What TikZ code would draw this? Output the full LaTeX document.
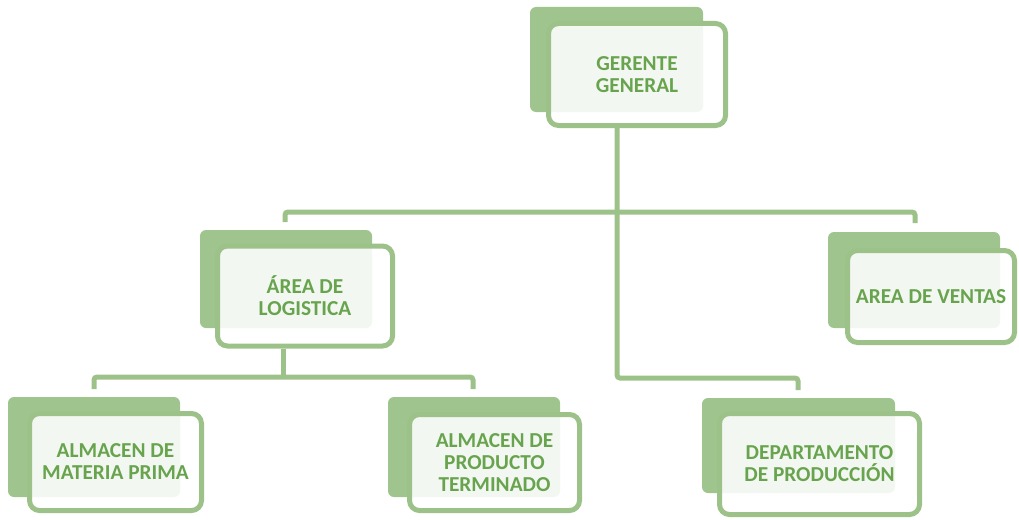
\documentclass[tikz,border=0pt]{standalone}
\usepackage{fontspec}
\setmainfont{Carlito}
\definecolor{linegreen}{RGB}{157,194,137}
\definecolor{backgreen}{RGB}{160,196,141}
\definecolor{textgreen}{RGB}{104,164,78}
\tikzset{
  backcard/.style={fill=backgreen, rounded corners=6pt},
  frontcard/.style={draw=linegreen, line width=5pt, rounded corners=10pt,
    fill=white, fill opacity=0.88, text opacity=1, text=textgreen,
    align=center, inner sep=0pt,
    font=\bfseries\fontsize{21.3}{22}\selectfont},
  link/.style={draw=linegreen, line width=5pt, rounded corners=3pt},
}
\begin{document}
\begin{tikzpicture}[x=1pt,y=-1pt]
\useasboundingbox (0,0) rectangle (1019,519);

% back cards
\fill[backcard] (530,7) rectangle (703,112);
\fill[backcard] (200,230) rectangle (372,328);
\fill[backcard] (828,232) rectangle (1000,328);
\fill[backcard] (8,397) rectangle (180,497);
\fill[backcard] (388,397) rectangle (560,497);
\fill[backcard] (702,398) rectangle (895,493);

% front cards with labels
\node[frontcard, minimum width=177pt, minimum height=102pt] (ger) at (637,74.5) {GERENTE\\GENERAL};
\node[frontcard, minimum width=175pt, minimum height=100pt] (log) at (305,296) {ÁREA DE\\LOGISTICA};
\node[frontcard, minimum width=167pt, minimum height=92pt] (ven) at (931,296.5) {AREA DE VENTAS};
\node[frontcard, minimum width=172pt, minimum height=97pt] (mat) at (115.5,462) {ALMACEN DE\\MATERIA PRIMA};
\node[frontcard, minimum width=170pt, minimum height=96pt] (pro) at (494.5,462.5) {ALMACEN DE\\PRODUCTO\\TERMINADO};
\node[frontcard, minimum width=200pt, minimum height=101pt] (dep) at (819.5,464) {DEPARTAMENTO\\DE PRODUCCIÓN};

% connector end points
\coordinate (gtrunk) at (617,128);
\coordinate (logdrop) at (285,222);
\coordinate (vendrop) at (915,223);
\coordinate (depdrop) at (798,390);
\coordinate (ltrunk) at (283,348);
\coordinate (matdrop) at (94,389);
\coordinate (prodrop) at (473,389);

% connectors
\draw[link] (logdrop) |- (915,212) -- (vendrop);
\draw[link] (ger.south -| gtrunk) |- (depdrop |- 0,378) -- (depdrop);
\draw[link] (log.south -| ltrunk) -- (283,377);
\draw[link] (matdrop) |- (473,377) -- (prodrop);
\end{tikzpicture}
\end{document}
